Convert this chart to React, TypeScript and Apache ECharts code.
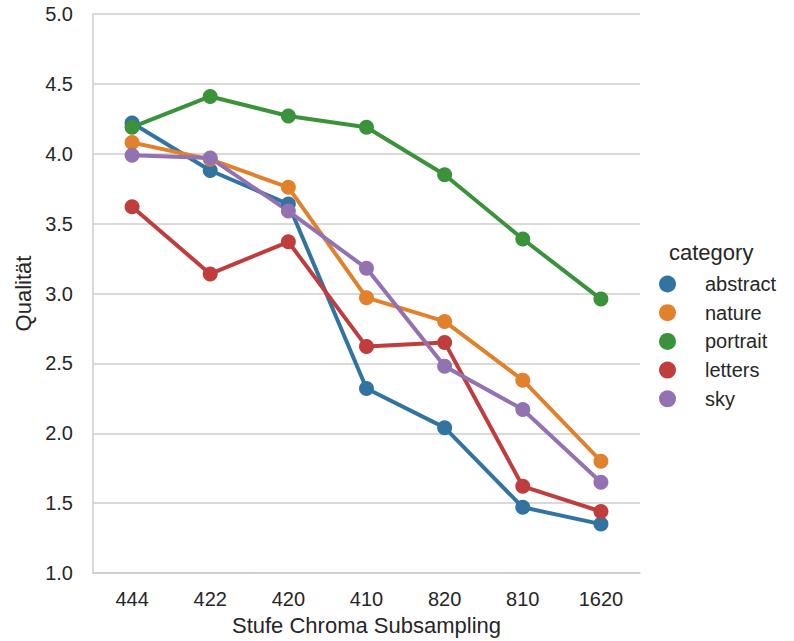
import React, { useEffect, useRef } from "react";
import * as echarts from "echarts";

const categories = ["444", "422", "420", "410", "820", "810", "1620"];
const seriesNames = ["abstract", "nature", "portrait", "letters", "sky"];
const colors = ["#3274a1", "#e1812c", "#3a923a", "#c03d3e", "#9372b2"];
const abstractVals = [4.22, 3.88, 3.64, 2.32, 2.04, 1.47, 1.35];
const natureVals = [4.08, 3.96, 3.76, 2.97, 2.8, 2.38, 1.8];
const portraitVals = [4.19, 4.41, 4.27, 4.19, 3.85, 3.39, 2.96];
const lettersVals = [3.62, 3.14, 3.37, 2.62, 2.65, 1.62, 1.44];
const skyVals = [3.99, 3.97, 3.59, 3.18, 2.48, 2.17, 1.65];
const allVals = [abstractVals, natureVals, portraitVals, lettersVals, skyVals];

const FONT = "Liberation Sans, Arial, sans-serif";
const TXT = "#262626";

export default function App() {
  const ref = useRef<HTMLDivElement>(null);
  useEffect(() => {
    if (!ref.current) return;
    const chart = echarts.init(ref.current, null, { renderer: "svg" });
    chart.setOption({
      animation: false,
      backgroundColor: "#ffffff",
      textStyle: { fontFamily: FONT },
      title: {
        text: "category",
        left: 664,
        top: 236,
        textStyle: { fontFamily: FONT, fontSize: 22, fontWeight: "normal", color: TXT },
      },
      legend: {
        orient: "vertical",
        left: 654,
        top: 269,
        icon: "circle",
        itemWidth: 17,
        itemHeight: 17,
        itemGap: 8.7,
        data: seriesNames,
        textStyle: { fontFamily: FONT, fontSize: 20, color: TXT, padding: [0, 0, 0, 24] },
      },
      grid: { left: 93, top: 14, right: 154, bottom: 65, containLabel: false },
      xAxis: {
        type: "category",
        data: categories,
        boundaryGap: true,
        name: "Stufe Chroma Subsampling",
        nameLocation: "middle",
        nameGap: 41,
        nameTextStyle: { fontFamily: FONT, fontSize: 22, color: TXT },
        axisLine: { lineStyle: { color: "#cccccc", width: 1.5 } },
        axisTick: { show: false },
        axisLabel: { fontFamily: FONT, fontSize: 20, color: TXT, margin: 16 },
        splitLine: { show: false },
      },
      yAxis: {
        type: "value",
        min: 1,
        max: 5,
        interval: 0.5,
        name: "Qualität",
        nameLocation: "middle",
        nameGap: 57,
        nameTextStyle: { fontFamily: FONT, fontSize: 22, color: TXT },
        axisLine: { show: true, lineStyle: { color: "#cccccc", width: 1.5 } },
        axisTick: { show: false },
        axisLabel: {
          fontFamily: FONT,
          fontSize: 20,
          color: TXT,
          margin: 20,
          formatter: (v: number) => v.toFixed(1),
        },
        splitLine: { show: true, lineStyle: { color: "#cccccc", width: 1.5 } },
      },
      series: seriesNames.map((name, i) => ({
        name,
        type: "line",
        data: allVals[i],
        symbol: "circle",
        symbolSize: 15,
        color: colors[i],
        lineStyle: { width: 4, color: colors[i] },
        itemStyle: { color: colors[i] },
      })),
    });
    return () => chart.dispose();
  }, []);
  return <div ref={ref} style={{ width: 794, height: 641, position: "absolute", left: 0, top: 0 }} />;
}
